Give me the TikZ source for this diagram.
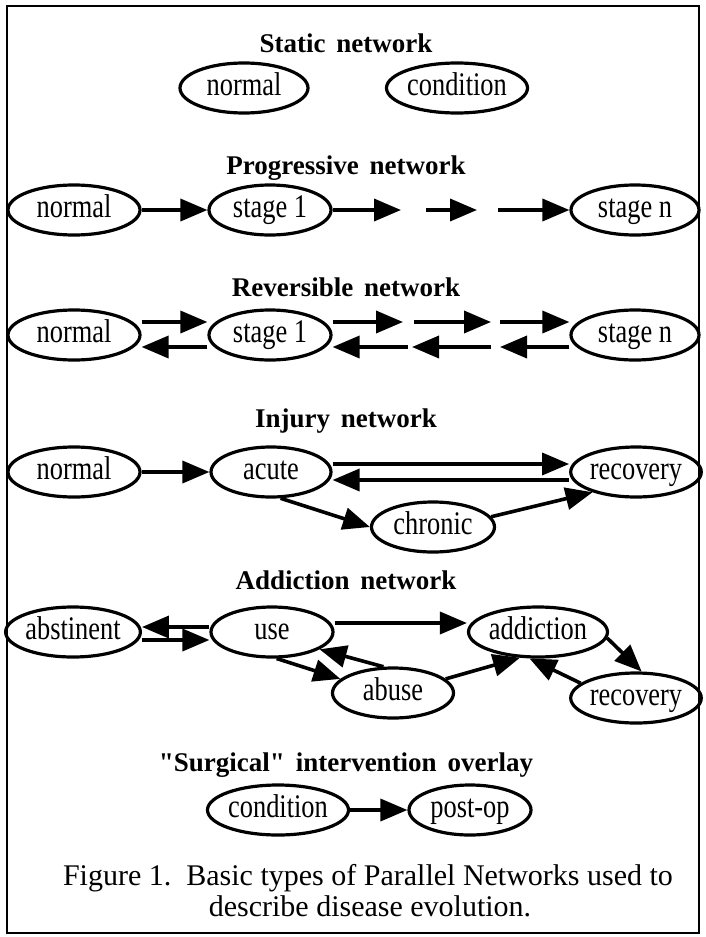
\documentclass[tikz,border=0pt]{standalone}
\usepackage{fontspec}
\setmainfont{Liberation Serif}
\newfontfamily\titlefont[WordSpace=1.6]{Liberation Serif Bold}
\newfontfamily\statefont[FakeStretch=0.8]{Liberation Serif}
\usetikzlibrary{shapes.geometric,arrows.meta}
\tikzset{
  state/.style={draw, ellipse, line width=3.2pt, minimum height=50pt, inner sep=0pt,
    text height=22pt, text depth=7pt,
    font=\statefont\fontsize{33}{36}\selectfont},
  trans/.style={line width=3.6pt, -{Triangle[length=27pt,width=22pt]}},
  heading/.style={anchor=base, font=\titlefont\fontsize{27}{30}\selectfont},
  legend/.style={anchor=base, font=\fontsize{30}{32}\selectfont},
}
\begin{document}
\begin{tikzpicture}[x=1pt,y=-1pt]
  \useasboundingbox (0,0) rectangle (705,937);
  \draw[line width=2.5pt] (7,6) rectangle (699,933);

  % static
  \node[heading] (hstatic) at (346,52) {Static network};
  \node[state, minimum width=128pt] (snormal) at (244,88) {normal};
  \node[state, minimum width=120pt] (scond) at (457,88) {condition};

  % progressive
  \node[heading] (hprog) at (346,174) {Progressive network};
  \node[state, minimum width=132pt] (pnormal) at (74,210) {normal};
  \node[state, minimum width=122pt] (pstage1) at (270,210) {stage 1};
  \node[state, minimum width=128pt] (pstagen) at (635,210) {stage n};
  \coordinate (p1) at (401,210);
  \coordinate (p2) at (426,210);
  \coordinate (p3) at (477,210);
  \coordinate (p4) at (498,210);
  \draw[trans] (pnormal) -- (pstage1);
  \draw[trans] (pstage1) -- (p1);
  \draw[trans] (p2) -- (p3);
  \draw[trans] (p4) -- (pstagen);

  % reversible
  \node[heading] (hrev) at (346,296) {Reversible network};
  \node[state, minimum width=132pt] (rnormal) at (74,335) {normal};
  \node[state, minimum width=122pt] (rstage1) at (270,335) {stage 1};
  \node[state, minimum width=128pt] (rstagen) at (635,335) {stage n};
  \coordinate (r1) at (403,322);
  \coordinate (r2) at (414,322);
  \coordinate (r3) at (491,322);
  \coordinate (r4) at (500,322);
  \coordinate (r5) at (408,347);
  \coordinate (r6) at (491,347);
  \coordinate (r7) at (412,347);
  \coordinate (r8) at (500,347);
  \draw[trans] ([yshift=13pt]rnormal.east) -- ([yshift=13pt]rstage1.west);
  \draw[trans] ([yshift=13pt]rstage1.east) -- (r1);
  \draw[trans] (r2) -- (r3);
  \draw[trans] (r4) -- ([yshift=13pt]rstagen.west);
  \draw[trans] ([yshift=-12pt]rstage1.west) -- ([yshift=-12pt]rnormal.east);
  \draw[trans] (r5) -- ([yshift=-12pt]rstage1.east);
  \draw[trans] (r6) -- (r7);
  \draw[trans] ([yshift=-12pt]rstagen.west) -- (r8);

  % injury
  \node[heading] (hinj) at (346,427) {Injury network};
  \node[state, minimum width=132pt] (inormal) at (74,472) {normal};
  \node[state, minimum width=120pt] (acute) at (271,472) {acute};
  \node[state, minimum width=128pt] (irecov) at (636,472) {recovery};
  \node[state, minimum width=123pt] (chronic) at (433,527) {chronic};
  \draw[trans] (inormal) -- (acute);
  \draw[trans] ([yshift=8pt]acute.east) -- ([yshift=8pt]irecov.west);
  \draw[trans] ([yshift=-8pt]irecov.west) -- ([yshift=-8pt]acute.east);
  \draw[trans] (acute.290) -- (chronic.west);
  \draw[trans] (chronic.10) -- (irecov.205);

  % addiction
  \node[heading] (hadd) at (346,589) {Addiction network};
  \node[state, minimum width=129pt] (abst) at (73,632) {abstinent};
  \node[state, minimum width=122pt] (use) at (272,632) {use};
  \node[state, minimum width=123pt] (addict) at (538,632) {addiction};
  \node[state, minimum width=121pt] (abuse) at (393,693) {abuse};
  \node[state, minimum width=126pt] (arecov) at (636,698) {recovery};
  \draw[trans] ([yshift=5pt]use.west) -- ([yshift=5pt]abst.east);
  \draw[trans] ([yshift=-8pt]abst.east) -- ([yshift=-8pt]use.west);
  \draw[trans] ([yshift=9pt]use.east) -- ([yshift=9pt]addict.west);
  \draw[trans] (use.280) -- (abuse.165);
  \draw[trans] (abuse.110) -- (use.340);
  \draw[trans] (abuse.15) -- (addict.235);
  \draw[trans] (addict.355) -- (arecov.78);
  \draw[trans] (arecov.165) -- (addict.252);

  % surgical overlay
  \node[heading] (hsurg) at (346,771) {"Surgical" intervention overlay};
  \node[state, minimum width=119pt] (ocond) at (278,810) {condition};
  \node[state, minimum width=122pt] (postop) at (470,810) {post-op};
  \draw[trans] (ocond) -- (postop);

  \node[legend] (cap1) at (368,885) {Figure 1.\ \ Basic types of Parallel Networks used to};
  \node[legend] (cap2) at (370,916) {describe disease evolution.};
\end{tikzpicture}
\end{document}
